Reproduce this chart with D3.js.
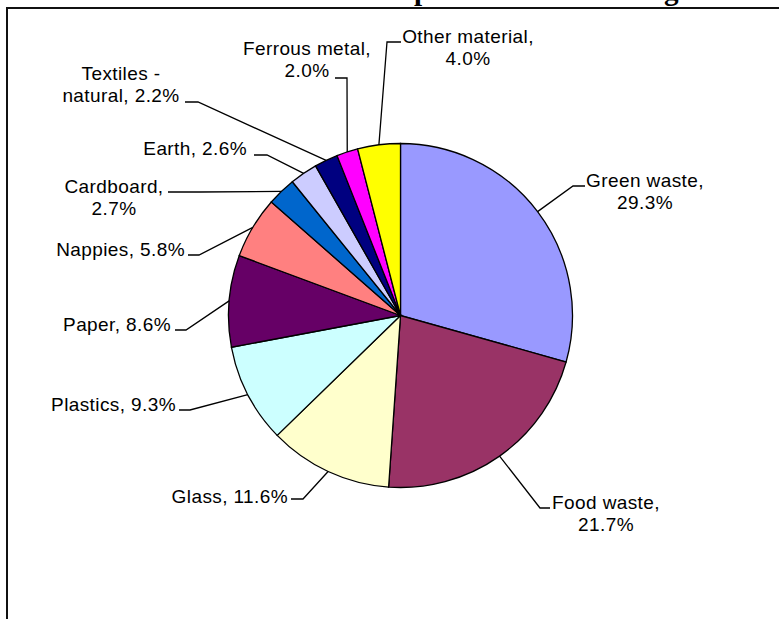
<!DOCTYPE html>
<meta charset="utf-8">
<style>
body { margin: 0; background: #fff; }
.slice { stroke: #000; stroke-width: 1.3px; }
.leader { fill: none; stroke: #000; stroke-width: 1.3px; }
.lbl { font-family: "Liberation Sans", Arial, sans-serif; font-size: 19px; letter-spacing: 0.4px; fill: #000; }
.title { font-family: "Liberation Serif", "Times New Roman", serif; font-weight: bold; font-size: 28px; }
</style>
<body>
<script src="https://d3js.org/d3.v7.min.js"></script>
<script>
var width = 779,
    height = 619;

// data (percent of total)
var categories = ["Green waste", "Food waste", "Glass", "Plastics", "Paper", "Nappies",
                  "Cardboard", "Earth", "Textiles - natural", "Ferrous metal", "Other material"];
var values = [29.3, 21.7, 11.6, 9.3, 8.6, 5.8, 2.7, 2.6, 2.2, 2.0, 4.0];
var colors = ["#9999FF", "#993366", "#FFFFCC", "#CCFFFF", "#660066", "#FF8080",
              "#0066CC", "#CCCCFF", "#000080", "#FF00FF", "#FFFF00"];
// how each label wraps
var labelLines = [
  ["Green waste,", "29.3%"],
  ["Food waste,", "21.7%"],
  ["Glass, 11.6%"],
  ["Plastics, 9.3%"],
  ["Paper, 8.6%"],
  ["Nappies, 5.8%"],
  ["Cardboard,", "2.7%"],
  ["Earth, 2.6%"],
  ["Textiles -", "natural, 2.2%"],
  ["Ferrous metal,", "2.0%"],
  ["Other material,", "4.0%"]
];

// layout of the leader lines / labels (page coords)
var cx = 400.5, cy = 315.5, r = 172;
var labelLayout = [
  {elbow: [573, 186], end: [585, 186], at: [645, 187], anchor: "middle"},
  {elbow: [540, 508], end: [550, 508], at: [606, 509], anchor: "middle"},
  {elbow: [303, 499], end: [291, 499], at: [288, 503], anchor: "end"},
  {elbow: [190, 410], end: [179, 410], at: [176, 411], anchor: "end"},
  {elbow: [186, 330], end: [175, 330], at: [171, 331], anchor: "end"},
  {elbow: [199, 255], end: [188, 255], at: [185, 256], anchor: "end"},
  {elbow: [200, 192], end: [168, 192], at: [114, 193], anchor: "middle"},
  {elbow: [267, 155], end: [254, 155], at: [247, 155], anchor: "end"},
  {elbow: [198, 102], end: [185, 102], at: [121, 80], anchor: "middle"},
  {elbow: [347, 78], end: [335, 78], at: [307, 55], anchor: "middle"},
  {elbow: [387, 42], end: [401, 42], at: [468, 43], anchor: "middle"}
];
var lineHeight = 22;

var svg = d3.select("body").append("svg")
    .attr("width", width)
    .attr("height", height);

// title (only its descenders show above the frame)
var title = svg.append("text")
    .attr("class", "title")
    .attr("y", 0)
    .text("Composition of Black Bag Waste");
(function fitTitle() {
  var node = title.node(), s = title.text();
  var ip = s.indexOf("p"), ig = s.lastIndexOf("g");
  var px = node.getStartPositionOfChar(ip).x, gx = node.getStartPositionOfChar(ig).x;
  var k = (664 - 414) / (gx - px);
  title.style("font-size", (28 * k) + "px");
  px = node.getStartPositionOfChar(ip).x;
  title.attr("x", 414 - px);
})();

// frame
svg.append("path")
    .attr("d", "M7," + height + "V8H" + width)
    .attr("fill", "none")
    .attr("stroke", "#111")
    .attr("stroke-width", 2);

var pie = d3.pie().sort(null).value(function(d) { return d; });
var arcs = pie(values);
var arc = d3.arc().innerRadius(0).outerRadius(r);
var edge = d3.arc().innerRadius(r).outerRadius(r);

var g = svg.append("g").attr("transform", "translate(" + cx + "," + cy + ")");

g.selectAll("path.slice")
    .data(arcs)
    .enter().append("path")
    .attr("class", "slice")
    .attr("fill", function(d, i) { return colors[i]; })
    .attr("d", arc);

// leader lines
svg.selectAll("path.leader")
    .data(arcs)
    .enter().append("path")
    .attr("class", "leader")
    .attr("d", function(d, i) {
      var c = edge.centroid(d), L = labelLayout[i];
      return d3.line()([[cx + c[0], cy + c[1]], L.elbow, L.end]);
    });

// labels
var labels = svg.selectAll("text.lbl")
    .data(arcs)
    .enter().append("text")
    .attr("class", "lbl")
    .attr("text-anchor", function(d, i) { return labelLayout[i].anchor; });

labels.each(function(d, i) {
  var L = labelLayout[i];
  d3.select(this).selectAll("tspan")
    .data(labelLines[i])
    .enter().append("tspan")
    .attr("x", L.at[0])
    .attr("y", function(t, j) { return L.at[1] + j * lineHeight; })
    .text(function(t) { return t; });
});
</script>
</body>
</html>
